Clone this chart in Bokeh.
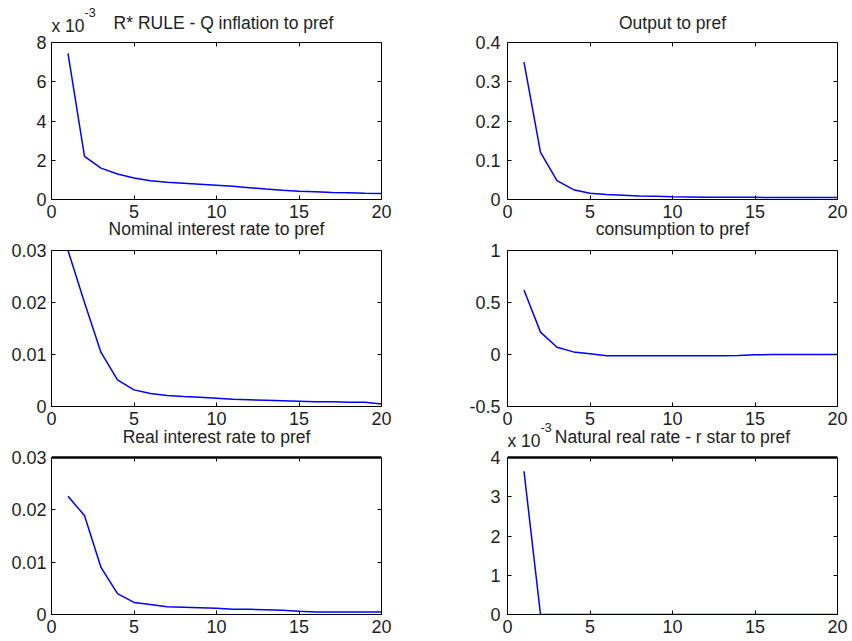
from bokeh.plotting import figure
from bokeh.models import LinearAxis, FixedTicker, Range1d, Label
from bokeh.layouts import column, row
from bokeh.embed import file_html
from bokeh.resources import INLINE

# ---------------- data ----------------
periods = list(range(1, 21))

# Q inflation to pref (units of 1e-3)
q_inflation_e3 = [7.45, 2.2, 1.6, 1.3, 1.1, 0.96, 0.88, 0.83, 0.78, 0.73,
                  0.67, 0.6, 0.53, 0.47, 0.42, 0.39, 0.36, 0.34, 0.32, 0.31]
# Output to pref
output = [0.35, 0.12, 0.048, 0.025, 0.016, 0.013, 0.011, 0.009, 0.008, 0.007,
          0.0065, 0.006, 0.006, 0.0055, 0.0055, 0.005, 0.005, 0.005, 0.005, 0.005]
# Nominal interest rate to pref
nominal_rate = [0.030, 0.0200, 0.0104, 0.0051, 0.0032, 0.0025, 0.0021, 0.0019, 0.0018, 0.0016,
                0.0014, 0.0013, 0.0012, 0.0011, 0.0010, 0.0009, 0.0009, 0.0008, 0.0008, 0.0005]
# consumption to pref
consumption = [0.62, 0.215, 0.07, 0.025, 0.008, -0.011, -0.012, -0.012, -0.012, -0.012,
               -0.012, -0.011, -0.011, -0.010, -0.002, -0.001, -0.001, -0.001, -0.001, -0.001]
# Real interest rate to pref
real_rate = [0.0226, 0.0189, 0.009, 0.004, 0.0023, 0.0019, 0.0015, 0.0014, 0.0013, 0.0012,
             0.0010, 0.0010, 0.0009, 0.0008, 0.0006, 0.0005, 0.0005, 0.0005, 0.0005, 0.0005]
# Natural real rate - r star to pref (units of 1e-3)
r_star_e3 = [3.65, 0, 0, 0, 0, 0, 0, 0, 0, 0,
             0, 0, 0, 0, 0, 0, 0, 0, 0, 0]

x_ticks = [0, 5, 10, 15, 20]

titles = ["R* RULE - Q inflation to pref", "Output to pref",
          "Nominal interest rate to pref", "consumption to pref",
          "Real interest rate to pref", "Natural real rate - r star to pref"]

y_ticks = [
    [0, 2, 4, 6, 8],
    [0, 0.1, 0.2, 0.3, 0.4],
    [0, 0.01, 0.02, 0.03],
    [-0.5, 0, 0.5, 1],
    [0, 0.01, 0.02, 0.03],
    [0, 1, 2, 3, 4],
]
y_tick_labels = [
    ["0", "2", "4", "6", "8"],
    ["0", "0.1", "0.2", "0.3", "0.4"],
    ["0", "0.01", "0.02", "0.03"],
    ["-0.5", "0", "0.5", "1"],
    ["0", "0.01", "0.02", "0.03"],
    ["0", "1", "2", "3", "4"],
]
y_limits = [(0, 8), (0, 0.4), (0, 0.03), (-0.5, 1), (0, 0.03), (0, 4)]

FONT = "Liberation Sans"
TXT = "#1e1e1e"
OVERLAP = 11

# per-row geometry: figure height, box height, bottom border,
# x label standoff, title offset above box
ROWS = [
    dict(h=224, box=157, bb=25, xs=5, tdy=20),
    dict(h=218, box=156, bb=25, xs=5, tdy=22),
    dict(h=219, box=157, bb=25, xs=5, tdy=21),
]
COLS = [
    dict(w=421, bl=51, br=40, ys=5),
    dict(w=428, bl=86, br=12, ys=7),
]


def hidden_labels(ax, ticks):
    ax.major_label_overrides = {t: "" for t in ticks}
    ax.major_label_text_font_size = "1px"
    ax.major_label_text_color = None
    ax.major_label_standoff = 0


def make_panel(i, yvals, col, rowi):
    c, r = COLS[col], ROWS[rowi]
    ymin, ymax = y_limits[i]
    frame_h = r["h"] - r["bb"]
    # the frame also covers the title strip above the boxed axes
    ytop = ymin + (ymax - ymin) * frame_h / r["box"]
    p = figure(width=c["w"], height=r["h"], x_range=Range1d(0, 20),
               y_range=Range1d(ymin, ytop),
               x_axis_type=None, y_axis_type=None, output_backend="svg",
               toolbar_location=None, title_location=None,
               min_border_left=c["bl"], min_border_right=c["br"],
               min_border_top=0, min_border_bottom=r["bb"])
    p.outline_line_color = None
    p.grid.visible = False
    p.background_fill_color = None
    p.border_fill_color = None

    xt = FixedTicker(ticks=x_ticks)
    yt = FixedTicker(ticks=y_ticks[i])

    def style(ax):
        ax.major_tick_in = 4
        ax.major_tick_out = 0
        ax.minor_tick_line_color = None
        ax.axis_line_color = "black"
        ax.major_tick_line_color = "black"
        ax.axis_line_width = 1

    bottom = LinearAxis(ticker=xt)
    style(bottom)
    bottom.major_label_text_font = FONT
    bottom.major_label_text_font_size = "18px"
    bottom.major_label_text_color = TXT
    bottom.major_label_standoff = r["xs"]
    p.add_layout(bottom, "below")

    left = LinearAxis(ticker=yt, bounds=(ymin, ymax))
    style(left)
    left.major_label_text_font = FONT
    left.major_label_text_font_size = "18px"
    left.major_label_text_color = TXT
    left.major_label_standoff = c["ys"]
    left.major_label_overrides = {t: s for t, s in zip(y_ticks[i], y_tick_labels[i])}
    p.add_layout(left, "left")

    right = LinearAxis(ticker=FixedTicker(ticks=y_ticks[i]), bounds=(ymin, ymax))
    style(right)
    hidden_labels(right, y_ticks[i])
    p.add_layout(right, "right")

    top = LinearAxis(ticker=FixedTicker(ticks=x_ticks), fixed_location=ymax)
    style(top)
    hidden_labels(top, x_ticks)
    if rowi == 2:
        top.axis_line_width = 2.5
    p.add_layout(top, "above")

    p.line(periods, yvals, line_color="#0000ff", line_width=1.5)

    # title
    dx = 7 if i == 0 else 0
    p.add_layout(Label(x=10, y=ymax, text=titles[i], text_align="center",
                       text_baseline="alphabetic", x_offset=dx, y_offset=r["tdy"],
                       text_font=FONT, text_font_size="17.5px", text_color=TXT))
    # exponent marker
    if i in (0, 5):
        p.add_layout(Label(x=0, y=ymax, text="x 10", text_align="left",
                           text_baseline="alphabetic", x_offset=0, y_offset=17,
                           text_font=FONT, text_font_size="17.5px", text_color=TXT))
        p.add_layout(Label(x=0, y=ymax, text="-3", text_align="left",
                           text_baseline="alphabetic", x_offset=33, y_offset=30,
                           text_font=FONT, text_font_size="12.5px", text_color=TXT))
    return p


series = [q_inflation_e3, output, nominal_rate, consumption, real_rate, r_star_e3]
panels = [make_panel(i, series[i], i % 2, i // 2) for i in range(6)]

layout = column(row(panels[0], panels[1]),
                row(panels[2], panels[3], styles={"margin-top": f"-{OVERLAP}px"}),
                row(panels[4], panels[5], styles={"margin-top": f"-{OVERLAP}px"}))

open("out.html", "w").write(file_html(layout, INLINE))
